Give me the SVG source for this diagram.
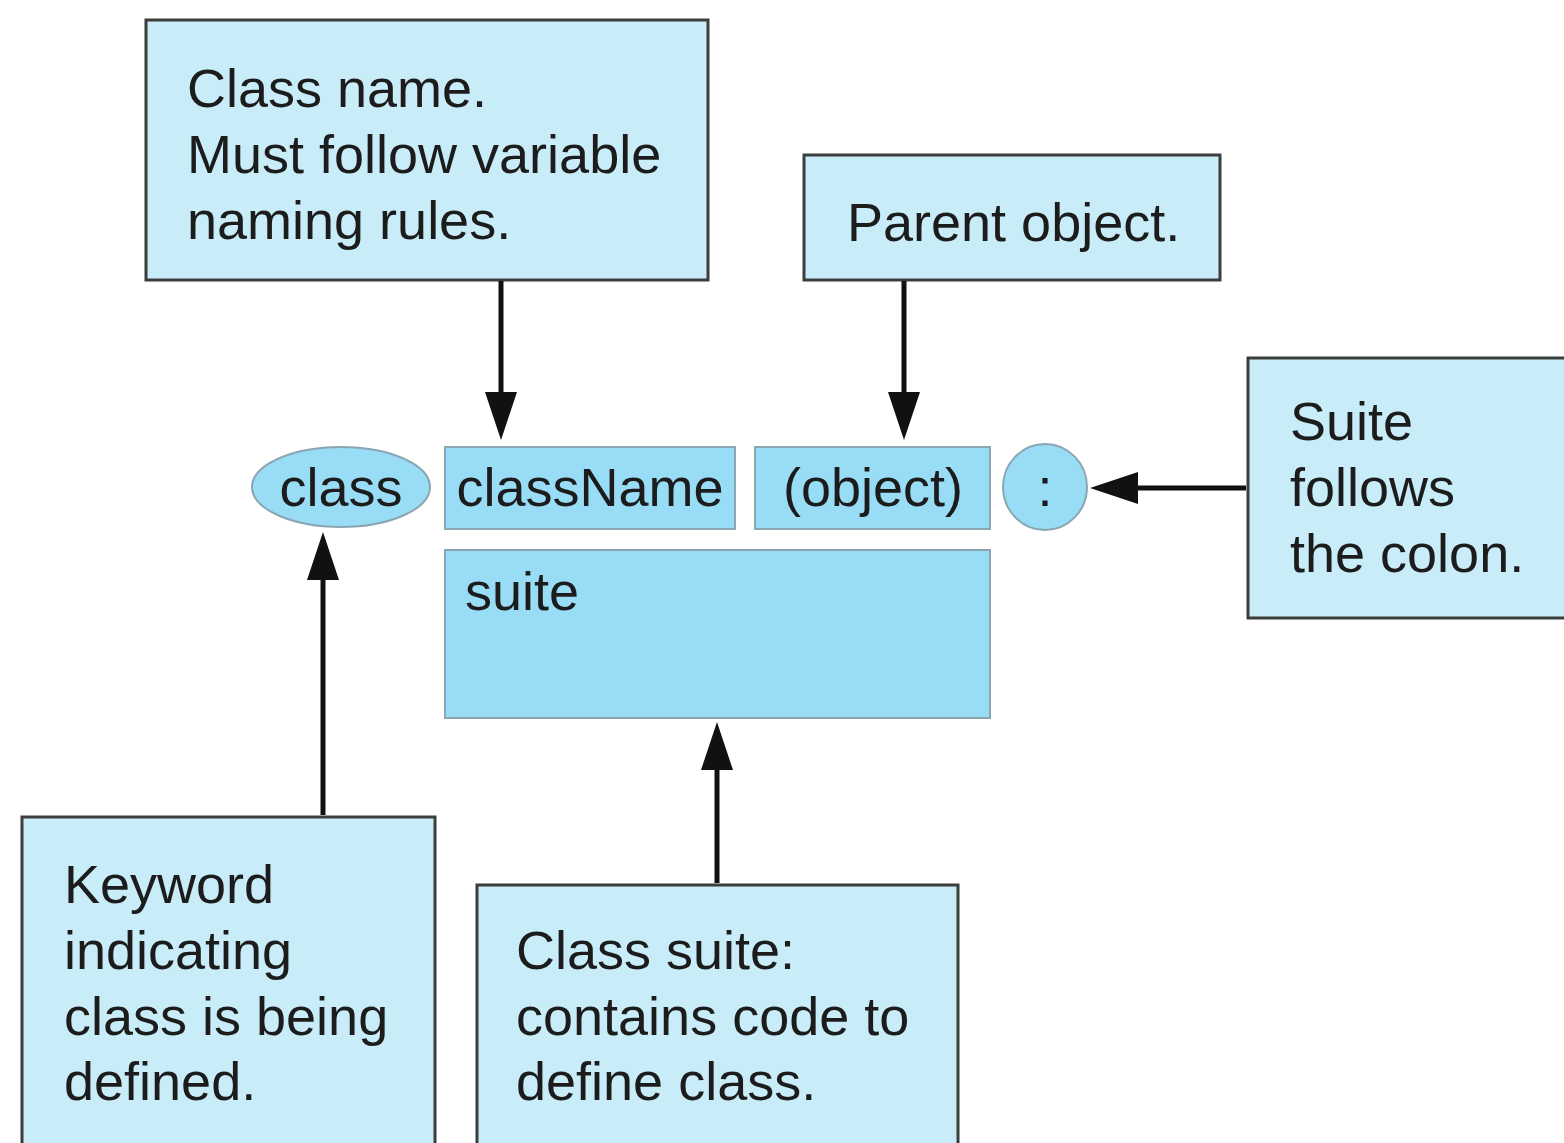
<svg xmlns="http://www.w3.org/2000/svg" width="1564" height="1143" viewBox="0 0 1564 1143">
  <style>
    .note { fill: #c9edf8; stroke: #3d3d3d; stroke-width: 3; }
    .syn { fill: #98dcf6; stroke: #8aa6b2; stroke-width: 2; }
    .txt { font-family: "Liberation Sans", Arial, sans-serif; font-size: 54px; fill: #1c1c1c; }
    .wire { fill: none; stroke: #111; stroke-width: 5; }
  </style>
  <defs>
    <marker id="head" viewBox="0 0 48 32" refX="38" refY="16" markerWidth="48" markerHeight="32" markerUnits="userSpaceOnUse" orient="auto">
      <path d="M0,0 L48,16 L0,32 Z" fill="#111"/>
    </marker>
  </defs>
  <rect width="1564" height="1143" fill="#ffffff"/>

  <!-- syntax pieces -->
  <g id="kw-class">
    <ellipse class="syn" cx="341" cy="487" rx="89" ry="40"/>
    <text class="txt" x="341" y="506" text-anchor="middle">class</text>
  </g>
  <g id="class-name">
    <rect class="syn" x="445" y="447" width="290" height="82"/>
    <text class="txt" x="590" y="506" text-anchor="middle">className</text>
  </g>
  <g id="parent">
    <rect class="syn" x="755" y="447" width="235" height="82"/>
    <text class="txt" x="873" y="506" text-anchor="middle">(object)</text>
  </g>
  <g id="colon">
    <ellipse class="syn" cx="1045" cy="487" rx="42" ry="43"/>
    <text class="txt" x="1045" y="506" text-anchor="middle">:</text>
  </g>
  <g id="suite">
    <rect class="syn" x="445" y="550" width="545" height="168"/>
    <text class="txt" x="465" y="610">suite</text>
  </g>

  <!-- callouts -->
  <g id="note-name">
    <rect class="note" x="146" y="20" width="562" height="260"/>
    <text class="txt" x="187" y="107">Class name.</text>
    <text class="txt" x="187" y="173">Must follow variable</text>
    <text class="txt" x="187" y="239">naming rules.</text>
  </g>
  <g id="note-parent">
    <rect class="note" x="804" y="155" width="416" height="125"/>
    <text class="txt" x="847" y="241">Parent object.</text>
  </g>
  <g id="note-colon">
    <rect class="note" x="1248" y="358" width="320" height="260"/>
    <text class="txt" x="1290" y="440">Suite</text>
    <text class="txt" x="1290" y="506">follows</text>
    <text class="txt" x="1290" y="572">the colon.</text>
  </g>
  <g id="note-keyword">
    <rect class="note" x="22" y="817" width="413" height="340"/>
    <text class="txt" x="64" y="903">Keyword</text>
    <text class="txt" x="64" y="969">indicating</text>
    <text class="txt" x="64" y="1035">class is being</text>
    <text class="txt" x="64" y="1100">defined.</text>
  </g>
  <g id="note-suite">
    <rect class="note" x="477" y="885" width="481" height="272"/>
    <text class="txt" x="516" y="969">Class suite:</text>
    <text class="txt" x="516" y="1035">contains code to</text>
    <text class="txt" x="516" y="1100">define class.</text>
  </g>

  <!-- connectors -->
  <g id="connectors">
    <path class="wire" d="M501,281 L501,430" marker-end="url(#head)"/>
    <path class="wire" d="M904,281 L904,430" marker-end="url(#head)"/>
    <path class="wire" d="M1246,488 L1100,488" marker-end="url(#head)"/>
    <path class="wire" d="M323,815 L323,542" marker-end="url(#head)"/>
    <path class="wire" d="M717,883 L717,732" marker-end="url(#head)"/>
  </g>
</svg>
